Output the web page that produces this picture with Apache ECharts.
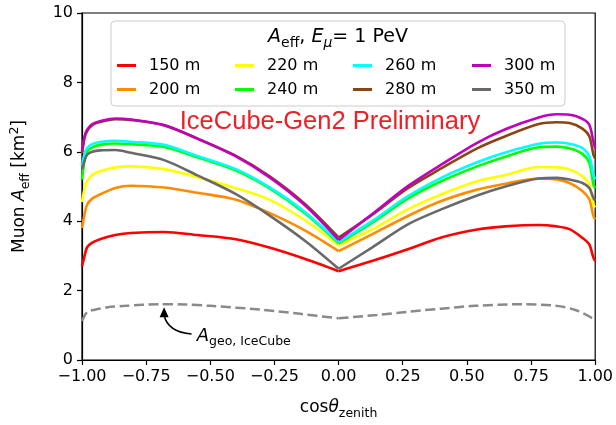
<!DOCTYPE html>
<html><head><meta charset="utf-8">
<script src="https://cdn.jsdelivr.net/npm/echarts@6/dist/echarts.min.js"></script>
<style>html,body{margin:0;padding:0;background:#fff}#c{width:616px;height:425px}</style>
</head><body><div id="c"></div>
<script>
// ---- data ----
const cosZenith = [-1, -0.99, -0.98, -0.96, -0.93, -0.87, -0.81, -0.68, -0.55, -0.4, -0.27, -0.13, 0, 0.13, 0.27, 0.4, 0.54, 0.65, 0.78, 0.85, 0.9, 0.95, 0.977, 0.993, 1];
const seriesNames = ['150 m', '200 m', '220 m', '240 m', '260 m', '280 m', '300 m', '350 m'];
const area150 = [2.7, 3.0, 3.25, 3.38, 3.48, 3.6, 3.66, 3.69, 3.6, 3.48, 3.24, 2.91, 2.56, 2.85, 3.19, 3.53, 3.76, 3.85, 3.89, 3.85, 3.77, 3.52, 3.33, 2.95, 2.85];
const area200 = [3.8, 4.2, 4.48, 4.65, 4.77, 4.96, 5.02, 4.97, 4.82, 4.62, 4.24, 3.73, 3.14, 3.62, 4.15, 4.58, 4.91, 5.08, 5.23, 5.2, 5.1, 4.87, 4.63, 4.15, 4.05];
const area220 = [4.55, 4.95, 5.15, 5.33, 5.44, 5.55, 5.58, 5.5, 5.27, 4.95, 4.62, 4.02, 3.3, 3.76, 4.34, 4.77, 5.15, 5.33, 5.56, 5.55, 5.49, 5.3, 5.06, 4.48, 4.4];
const area240 = [5.2, 5.75, 6.0, 6.13, 6.2, 6.24, 6.22, 6.14, 5.84, 5.46, 4.95, 4.22, 3.36, 3.95, 4.65, 5.15, 5.58, 5.86, 6.13, 6.15, 6.1, 5.94, 5.68, 5.06, 4.95];
const area260 = [5.6, 5.95, 6.11, 6.22, 6.28, 6.32, 6.29, 6.2, 5.88, 5.5, 4.98, 4.26, 3.4, 4.0, 4.72, 5.25, 5.7, 5.98, 6.23, 6.27, 6.23, 6.11, 5.87, 5.34, 5.2];
const area280 = [5.95, 6.4, 6.6, 6.77, 6.86, 6.94, 6.92, 6.76, 6.38, 5.88, 5.3, 4.49, 3.53, 4.18, 4.95, 5.52, 6.1, 6.45, 6.8, 6.85, 6.83, 6.67, 6.45, 5.92, 5.8];
const area300 = [6.0, 6.45, 6.64, 6.8, 6.88, 6.96, 6.93, 6.77, 6.38, 5.87, 5.27, 4.45, 3.46, 4.2, 5.01, 5.63, 6.26, 6.65, 6.99, 7.08, 7.07, 6.95, 6.78, 6.3, 6.1];
const area350 = [5.5, 5.75, 5.92, 6.0, 6.04, 6.05, 5.97, 5.76, 5.32, 4.78, 4.17, 3.43, 2.63, 3.24, 3.91, 4.34, 4.74, 5.0, 5.23, 5.25, 5.2, 5.1, 4.96, 4.67, 4.6];
const geoCos  = [-1, -0.98, -0.95, -0.9, -0.83, -0.7, -0.6, -0.5, -0.3, -0.15, 0, 0.15, 0.27, 0.4, 0.53, 0.72, 0.85, 0.92, 0.96, 0.99, 1];
const geoArea = [1.12, 1.38, 1.45, 1.52, 1.56, 1.61, 1.6, 1.56, 1.45, 1.33, 1.2, 1.3, 1.39, 1.48, 1.56, 1.61, 1.56, 1.45, 1.32, 1.2, 1.15];
const xTickInterval = 0.25;
const yTickInterval = 2;
// annotation anchor points (data coords)
const arrowTip = [-0.68, 1.52];
const arrowTail = [-0.573, 0.75];
const arrowCtrl = [-0.665, 0.80];
const geoLabelAt = [-0.553, 0.69];

const allAreas = [area150, area200, area220, area240, area260, area280, area300, area350];
const colors = ['#ff0000', '#ff8c00', '#ffff00', '#00ff00', '#00ffff', '#8b4513', '#bf00bf', '#696969'];
const FONT = 'DejaVu Sans';

const chart = echarts.init(document.getElementById('c'), null, {renderer: 'canvas'});

function half(xs, ys, left) {
  const out = [];
  for (let i = 0; i < xs.length; i++) {
    if (left ? xs[i] <= 0 : xs[i] >= 0) out.push([xs[i], ys[i]]);
  }
  return out;
}

const series = [];
seriesNames.forEach((name, k) => {
  [true, false].forEach(left => {
    series.push({
      type: 'line', name: name, data: half(cosZenith, allAreas[k], left),
      showSymbol: false, symbol: 'none', smooth: 0.3,
      lineStyle: {color: colors[k], width: 2.6}, itemStyle: {color: colors[k]},
      z: 2 + k, silent: true, animation: false
    });
  });
});
[true, false].forEach(left => {
  series.push({
    type: 'line', name: 'Ageo', data: half(geoCos, geoArea, left),
    showSymbol: false, symbol: 'none', smooth: 0.3,
    lineStyle: {color: '#8a8a8a', width: 2.5, type: [10, 4.5]},
    z: 1, silent: true, animation: false
  });
});

const legendLefts = [117, 235, 353, 472];
const legends = legendLefts.map((l, i) => ({
  data: [seriesNames[2 * i], seriesNames[2 * i + 1]],
  orient: 'vertical', left: l, top: 56, padding: 0,
  itemWidth: 19, itemHeight: 3, icon: 'rect', itemGap: 5, selectedMode: false,
  textStyle: {fontFamily: FONT, fontSize: 16, color: '#000', lineHeight: 19, padding: [0, 0, 0, 8]}
}));

const minus = s => s.replace('-', '\u2212');

chart.setOption({
  animation: false,
  backgroundColor: '#fff',
  grid: {left: 81, right: 20, top: 13, bottom: 64, containLabel: false, show: true, borderColor: '#000', borderWidth: 1.2, backgroundColor: 'transparent'},
  legend: legends,
  xAxis: {
    type: 'value', min: -1, max: 1, interval: xTickInterval,
    name: '{n|cos}{i|θ}{s|zenith}', nameLocation: 'middle', nameGap: 36,
    nameTextStyle: {rich: {
      n: {fontFamily: FONT, fontSize: 17, color: '#000', lineHeight: 24},
      i: {fontFamily: FONT, fontSize: 17, fontStyle: 'italic', color: '#000', lineHeight: 24},
      s: {fontFamily: FONT, fontSize: 12.5, color: '#000', lineHeight: 12, verticalAlign: 'bottom'}
    }},
    axisLine: {show: true, onZero: false, lineStyle: {color: '#000', width: 1.2}},
    axisTick: {show: true, inside: false, length: 5, lineStyle: {color: '#000', width: 1.2}},
    axisLabel: {fontFamily: FONT, fontSize: 16, color: '#000', margin: 9, showMinLabel: true, showMaxLabel: true, hideOverlap: false,
      formatter: v => minus(v.toFixed(2))},
    splitLine: {show: false}
  },
  yAxis: {
    type: 'value', min: 0, max: 10, interval: yTickInterval,
    name: '{n|Muon }{i|A}{s|eff}{n| [km}{p|2}{n|]}', nameLocation: 'middle', nameGap: 50, nameRotate: 90,
    nameTextStyle: {rich: {
      n: {fontFamily: FONT, fontSize: 17, color: '#000', lineHeight: 24},
      i: {fontFamily: FONT, fontSize: 17, fontStyle: 'italic', color: '#000', lineHeight: 24},
      s: {fontFamily: FONT, fontSize: 12.5, color: '#000', lineHeight: 12, verticalAlign: 'bottom'},
      p: {fontFamily: FONT, fontSize: 12.5, color: '#000', lineHeight: 12, verticalAlign: 'top'}
    }},
    axisLine: {show: true, onZero: false, lineStyle: {color: '#000', width: 1.2}},
    axisTick: {show: true, inside: false, length: 5, lineStyle: {color: '#000', width: 1.2}},
    axisLabel: {fontFamily: FONT, fontSize: 16, color: '#000', margin: 9},
    splitLine: {show: false}
  },
  series: series
});

const P = c => chart.convertToPixel({gridIndex: 0}, c);
const tip = P(arrowTip), tail = P(arrowTail), ctrl = P(arrowCtrl), lab = P(geoLabelAt);

chart.setOption({
  graphic: [
    {type: 'rect', id: 'legbox', z: 1, shape: {x: 111, y: 21, width: 454, height: 85, r: 4},
      style: {fill: 'rgba(255,255,255,0.85)', stroke: '#cccccc', lineWidth: 1}},
    {type: 'text', id: 'legtitle', z: 5, x: 338, y: 37,
      style: {text: '{i|A}{s|eff}{n|, }{i|E}{si|μ}{n|= 1 PeV}', align: 'center', verticalAlign: 'middle', textAlign: 'center', textVerticalAlign: 'middle',
        rich: {
          n: {fontFamily: FONT, fontSize: 19, fill: '#000', color: '#000', lineHeight: 26},
          i: {fontFamily: FONT, fontSize: 19, fontStyle: 'italic', fill: '#000', color: '#000', lineHeight: 26},
          s: {fontFamily: FONT, fontSize: 14, fill: '#000', color: '#000', lineHeight: 14, verticalAlign: 'bottom'},
          si: {fontFamily: FONT, fontSize: 14, fontStyle: 'italic', fill: '#000', color: '#000', lineHeight: 14, verticalAlign: 'bottom'}
        }}},
    {type: 'text', id: 'prelim', z: 5, x: 330, y: 122,
      style: {text: 'IceCube-Gen2 Preliminary', fontFamily: 'Liberation Sans', fontSize: 25.5, fill: '#ec2027',
        align: 'center', verticalAlign: 'middle', textAlign: 'center', textVerticalAlign: 'middle'}},
    {type: 'bezierCurve', id: 'arrowline', z: 5,
      shape: {x1: tail[0], y1: tail[1], cpx1: ctrl[0], cpy1: ctrl[1], x2: tip[0], y2: tip[1] + 8},
      style: {stroke: '#000', lineWidth: 1.5, fill: null}},
    {type: 'polygon', id: 'arrowhead', z: 5,
      shape: {points: [[tip[0], tip[1]], [tip[0] - 4.5, tip[1] + 10], [tip[0] + 4.5, tip[1] + 10]]},
      style: {fill: '#000'}},
    {type: 'text', id: 'geolabel', z: 5, x: lab[0], y: lab[1],
      style: {text: '{i|A}{s|geo, IceCube}', align: 'left', verticalAlign: 'middle', textAlign: 'left', textVerticalAlign: 'middle',
        rich: {
          i: {fontFamily: FONT, fontSize: 18, fontStyle: 'italic', fill: '#000', color: '#000', lineHeight: 24},
          s: {fontFamily: FONT, fontSize: 12.5, fill: '#000', color: '#000', lineHeight: 12, verticalAlign: 'bottom'}
        }}}
  ]
});
</script>
</body></html>
